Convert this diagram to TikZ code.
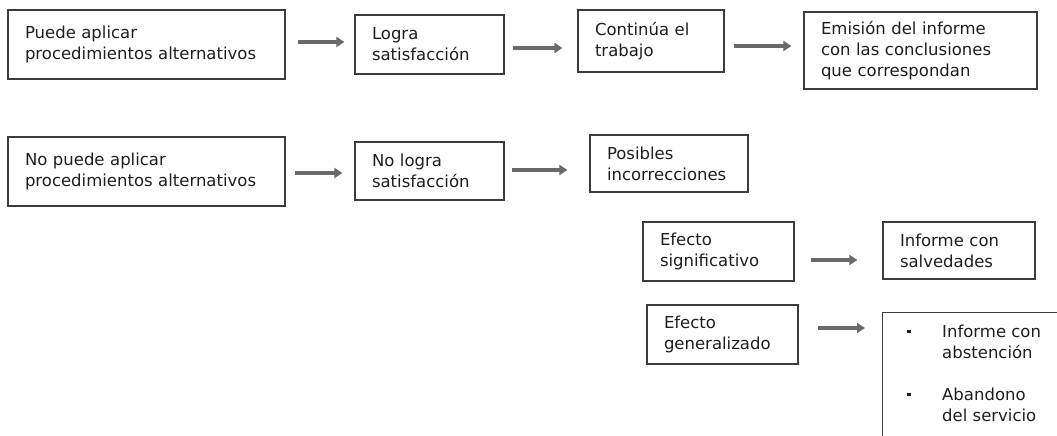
\documentclass[tikz,border=0pt]{standalone}
\usepackage{fontspec}
\setmainfont{DejaVu Sans}
\usetikzlibrary{arrows.meta}
\definecolor{boxline}{RGB}{60,60,60}
\definecolor{arrgray}{RGB}{105,105,105}
\definecolor{txtcol}{RGB}{30,30,30}
\begin{document}
\begin{tikzpicture}[x=1pt,y=-1pt,
  box/.style={draw=boxline, line width=1.3pt, rectangle, inner xsep=17pt, inner ysep=0pt,
    align=left, font=\fontsize{16.5}{21}\selectfont, text=txtcol},
  arr/.style={draw=arrgray, line width=4pt, -{Triangle[length=8pt,width=10pt]}},
  txt/.style={font=\fontsize{16.5}{21}\selectfont, text=txtcol, inner sep=0pt},
  bullet/.style={fill=txtcol, inner sep=0pt, minimum size=3.5pt, rectangle}]
\useasboundingbox (0,0) rectangle (1057,436);
\clip (0,0) rectangle (1057,436);
% row 1
\node[box, minimum width=277pt, minimum height=69pt, text width=243pt] (b1) at (146.5,44.5) {Puede aplicar\\procedimientos alternativos};
\node[box, minimum width=149pt, minimum height=59pt, text width=115pt] (b2) at (429.5,44.5) {Logra\\satisfacción};
\node[box, minimum width=146pt, minimum height=62pt, text width=112pt] (b3) at (651,41) {Continúa el\\trabajo};
\node[box, minimum width=233pt, minimum height=77pt, text width=199pt] (b4) at (920.5,50.5) {Emisión del informe\\con las conclusiones\\que correspondan};
% row 2
\node[box, minimum width=277pt, minimum height=69pt, text width=243pt] (b5) at (146.5,171.5) {No puede aplicar\\procedimientos alternativos};
\node[box, minimum width=149pt, minimum height=58pt, text width=115pt] (b6) at (429.5,171) {No logra\\satisfacción};
\node[box, minimum width=158pt, minimum height=57pt, text width=124pt] (b7) at (669,163.5) {Posibles\\incorrecciones};
% rows 3-4
\node[box, minimum width=151pt, minimum height=59pt, text width=117pt] (b8) at (718.5,251.5) {Efecto\\significativo};
\node[box, minimum width=152pt, minimum height=57pt, text width=118pt] (b9) at (959,250.5) {Informe con\\salvedades};
\node[box, minimum width=151pt, minimum height=59pt, text width=117pt] (b10) at (722.5,334.5) {Efecto\\generalizado};
\node[draw=boxline, line width=1.3pt, rectangle, anchor=north west, minimum width=260pt, minimum height=200pt] (b11) at (882,312) {};
\node[bullet] (k1) at (909,331.5) {};
\node[txt, anchor=base west] (t1) at (942,337) {Informe con};
\node[txt, anchor=base west] (t2) at (942,358) {abstención};
\node[bullet] (k2) at (909,394.5) {};
\node[txt, anchor=base west] (t3) at (942,400) {Abandono};
\node[txt, anchor=base west] (t4) at (942,421) {del servicio};
% arrows
\draw[arr, shorten <=12pt, shorten >=10pt] ([yshift=2.5pt]b1.east) -- ([yshift=2.5pt]b1.east -| b2.west);
\draw[arr, shorten <=8pt, shorten >=15pt] ([yshift=-3.5pt]b2.east) -- ([yshift=-3.5pt]b2.east -| b3.west);
\draw[arr, shorten <=9pt, shorten >=12pt] ([yshift=-5pt]b3.east) -- ([yshift=-5pt]b3.east -| b4.west);
\draw[arr, shorten <=9pt, shorten >=12pt] ([yshift=-1.5pt]b5.east) -- ([yshift=-1.5pt]b5.east -| b6.west);
\draw[arr, shorten <=7pt, shorten >=22pt] ([yshift=1pt]b6.east) -- ([yshift=1pt]b6.east -| b7.west);
\draw[arr, shorten <=16pt, shorten >=25pt] ([yshift=-8.5pt]b8.east) -- ([yshift=-8.5pt]b8.east -| b9.west);
\draw[arr, shorten <=19pt, shorten >=17pt] ([yshift=6.5pt]b10.east) -- ([yshift=6.5pt]b10.east -| b11.west);
\end{tikzpicture}
\end{document}
